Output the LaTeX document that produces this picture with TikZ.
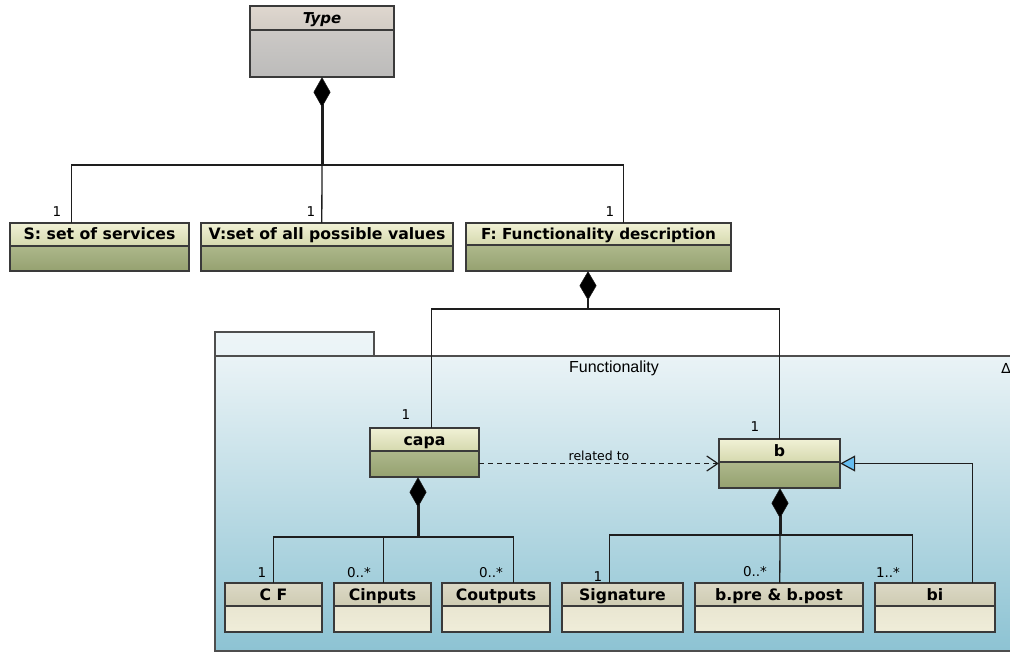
\documentclass[tikz,border=0pt]{standalone}
\usepackage{fontspec}
\usetikzlibrary{arrows.meta,fit}
\newfontfamily\dejavu{DejaVu Sans}
\newfontfamily\libsans{Liberation Sans}

\definecolor{linec}{HTML}{1E1E1E}
\definecolor{boxc}{HTML}{3A3A3A}
\definecolor{pkLine}{HTML}{4E4E4E}
\definecolor{pkTop}{HTML}{EAF3F6}
\definecolor{pkBot}{HTML}{8DC3D3}
\definecolor{pkTab}{HTML}{EDF5F8}
\definecolor{gH1}{HTML}{F1F1D6}
\definecolor{gH2}{HTML}{D5D9AE}
\definecolor{gB1}{HTML}{C3CCA3}
\definecolor{gB2}{HTML}{95A170}
\definecolor{tH1}{HTML}{DFD7CF}
\definecolor{tH2}{HTML}{D2CCC5}
\definecolor{tB1}{HTML}{D4D0CC}
\definecolor{tB2}{HTML}{BCBBBA}
\definecolor{cH1}{HTML}{DCD9C6}
\definecolor{cH2}{HTML}{CECBB2}
\definecolor{cB1}{HTML}{E2DFCA}
\definecolor{cB2}{HTML}{F0EDD9}
\definecolor{genblue}{HTML}{66BDF0}

\tikzset{
  greenbody/.style={top color=gB1, bottom color=gB2},
  greenhead/.style={top color=gH1, bottom color=gH2},
  graybody/.style={top color=tB1, bottom color=tB2},
  grayhead/.style={top color=tH1, bottom color=tH2},
  creambody/.style={top color=cB1, bottom color=cB2},
  creamhead/.style={top color=cH1, bottom color=cH2},
  boxline/.style={draw=boxc, line width=1.5pt},
  classtitle/.style={font=\dejavu\bfseries\fontsize{15.7}{18}\selectfont,
    inner sep=0pt, text height=11.4pt, text depth=0pt, text=black},
  mult/.style={font=\dejavu\fontsize{13.5}{15}\selectfont, inner sep=0pt, text=black},
  conn/.style={draw=linec, line width=1.3pt},
  comp/.style={draw=linec, line width=3pt,
    arrows={Diamond[length=30pt,width=17pt,line width=0.5pt,fill=black]-}},
  compthin/.style={draw=linec, line width=1.3pt,
    arrows={Diamond[length=29pt,width=17pt,line width=0.5pt,fill=black]-}},
  gen/.style={conn, arrows={-Triangle[length=15pt,width=16pt,fill=genblue,line width=1.2pt]}},
  dep/.style={conn, dash pattern=on 5pt off 4pt,
    arrows={-Straight Barb[length=11pt,width=15pt,line width=1.2pt]}},
}

% #1 name, #2 palette, #3 top-left, #4 bottom-right, #5 header height, #6 title, #7 extra options
\newcommand\umlclass[7]{%
  \node[fit={(#3) (#4)}, inner sep=0pt, #2body] (#1) {};
  \shade[#2head] (#1.north west) rectangle ([yshift=-#5pt]#1.north east);
  \draw[boxline] (#1.north west) rectangle (#1.south east);
  \draw[boxline] ([yshift=-#5pt]#1.north west) -- ([yshift=-#5pt]#1.north east);
  \path (#1.north west) -- ([yshift=-#5pt]#1.north east)
    node[midway, classtitle, #7] (#1-title) {#6};
}

\begin{document}
\begin{tikzpicture}[x=1pt, y=-1pt]
\useasboundingbox[fill=white] (0,0) rectangle (1010,655);

% package "Functionality"
\shade[top color=pkTab, bottom color=pkTop, draw=pkLine, line width=1.3pt]
  (215,332) rectangle (374,356);
\shade[top color=pkTop, bottom color=pkBot, draw=pkLine, line width=1.5pt]
  (215,356) rectangle (1030,651);
\node[font=\libsans\fontsize{16}{18}\selectfont, inner sep=0pt] (pkgname) at (614,368) {Functionality};
\node[font=\dejavu\fontsize{14}{16}\selectfont, inner sep=0pt] (pkgicon) at (1006,368) {∆};

% classes
\umlclass{Type}{gray}{250,6}{394,77}{24}{Type}{font=\dejavu\bfseries\itshape\fontsize{15}{18}\selectfont}
\umlclass{S}{green}{10,223}{189,271}{23}{S: set of services}{}
\umlclass{V}{green}{201,223}{453,271}{23}{V:set of all possible values}{}
\umlclass{F}{green}{466,223}{731,271}{22}{F: Functionality description}{font=\dejavu\bfseries\fontsize{15.2}{18}\selectfont}
\umlclass{capa}{green}{370,428}{479,477}{23}{capa}{}
\umlclass{b}{green}{719,439}{840,488}{23}{b}{}
\umlclass{CF}{cream}{225,583}{322,632}{23}{C F}{}
\umlclass{Cin}{cream}{334,583}{431,632}{23}{Cinputs}{}
\umlclass{Cout}{cream}{442,583}{550,632}{23}{Coutputs}{}
\umlclass{Sig}{cream}{562,583}{683,632}{23}{Signature}{}
\umlclass{Bpp}{cream}{695,583}{863,632}{23}{b.pre \& b.post}{}
\umlclass{bi}{cream}{875,583}{995,632}{23}{bi}{}

% junctions of the composition trees
\coordinate (tJ) at (322,165);
\coordinate (fJ) at (588,309);
\coordinate (cJ) at (418,537);
\coordinate (bJ) at (780,535);

% Type composition
\draw[comp] (Type.south) -- (tJ);
\draw[conn] ([xshift=62pt]S.north west) |- (tJ) -| ([xshift=158pt]F.north west);
\draw[conn] ([xshift=121pt]V.north west) -- (tJ);

% F composition
\draw[compthin] ([xshift=-10.5pt]F.south) -- (fJ);
\draw[conn] ([xshift=62pt]capa.north west) |- (fJ) -| ([xshift=61pt]b.north west);

% capa composition
\draw[comp] ([xshift=-6.5pt]capa.south) -- (cJ);
\draw[conn] ([xshift=49pt]CF.north west) |- (cJ) -| ([xshift=72pt]Cout.north west);
\draw[conn] ([xshift=50pt]Cin.north west) |- (cJ);

% b composition
\draw[comp] ([xshift=0.5pt]b.south) -- (bJ);
\draw[conn] ([xshift=48pt]Sig.north west) |- (bJ) -| ([xshift=38pt]bi.north west);
\draw[conn] ([xshift=85pt]Bpp.north west) -- (bJ);

% generalization bi -> b
\draw[gen] ([xshift=98pt]bi.north west) |- (b.east);

% dependency capa -> b
\draw[dep] (capa.east |- b.east) -- (b.west)
  node[midway, above=2pt, font=\dejavu\fontsize{12.5}{14}\selectfont, inner sep=0pt] (rel) {related to};

% multiplicities
\node[mult] (mS)    at (57,212)  {1};
\node[mult] (mV)    at (311,212) {1};
\node[mult] (mF)    at (610,212) {1};
\node[mult] (mcapa) at (406,415) {1};
\node[mult] (mb)    at (755,427) {1};
\node[mult] (mCF)   at (262,573) {1};
\node[mult] (mCin)  at (359,573) {0..*};
\node[mult] (mCout) at (491,573) {0..*};
\node[mult] (mSig)  at (598,577) {1};
\node[mult] (mBpp)  at (755,572) {0..*};
\node[mult] (mbi)   at (888,572) {1..*};
\end{tikzpicture}
\end{document}
